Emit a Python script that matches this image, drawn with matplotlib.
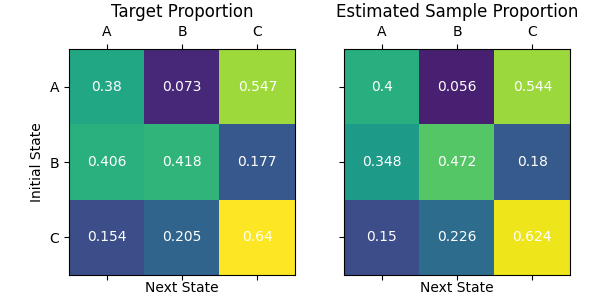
import matplotlib
matplotlib.use("Agg")

import matplotlib.pyplot as plt
import numpy as np

states = ["A", "B", "C"]
target = [[0.38, 0.073, 0.547],
          [0.406, 0.418, 0.177],
          [0.154, 0.205, 0.64]]
estimated = [[0.4, 0.056, 0.544],
             [0.348, 0.472, 0.18],
             [0.15, 0.226, 0.624]]
titles = ["Target Proportion", "Estimated Sample Proportion"]

vmax = max(np.max(target), np.max(estimated))

fig = plt.figure(figsize=(6, 3), dpi=100)
ax1 = fig.add_axes([69 / 600, 25 / 300, 226 / 600, 226 / 300])
ax2 = fig.add_axes([344 / 600, 25 / 300, 226 / 600, 226 / 300])

for i, (ax, data, title) in enumerate(zip([ax1, ax2], [target, estimated], titles)):
    arr = np.array(data)
    ax.imshow(arr, cmap="viridis", aspect="auto", vmin=0, vmax=vmax)
    for r in range(arr.shape[0]):
        for c in range(arr.shape[1]):
            ax.text(c, r, f"{arr[r, c]:g}", ha="center", va="center", color="white", fontsize=10)
    ax.set_xticks(range(len(states)))
    ax.set_yticks(range(len(states)))
    ax.set_xticklabels(states)
    ax.set_yticklabels(states if i == 0 else [])
    ax.tick_params(top=True, labeltop=True, bottom=True, labelbottom=False)
    ax.set_title(title, fontsize=12)
    ax.set_xlabel("Next State", labelpad=1)
    if i == 0:
        ax.set_ylabel("Initial State")

fig.savefig("out.png", dpi=100)
plt.close(fig)
